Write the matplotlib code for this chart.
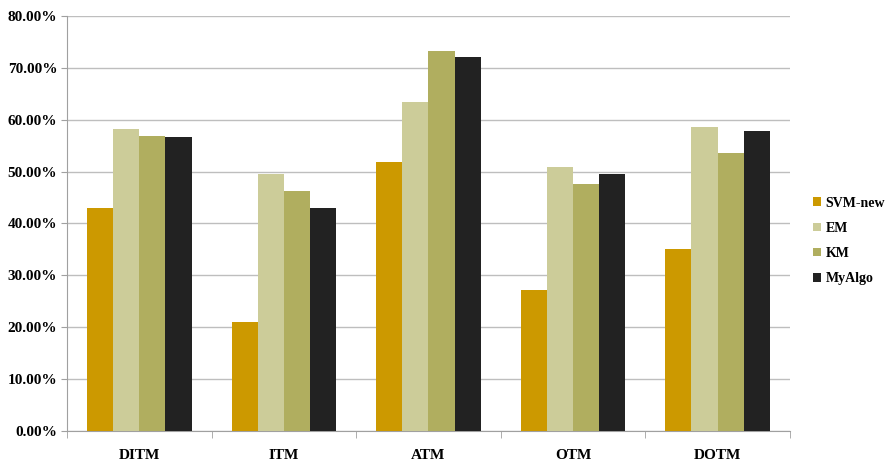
import matplotlib.pyplot as plt
import numpy as np
from matplotlib.ticker import PercentFormatter, FixedLocator

categories = ["DITM", "ITM", "ATM", "OTM", "DOTM"]
svm_new = [43.0, 21.0, 51.8, 27.1, 35.0]
em = [58.2, 49.5, 63.4, 50.9, 58.6]
km = [56.8, 46.3, 73.3, 47.7, 53.5]
my_algo = [56.7, 43.0, 72.1, 49.5, 57.8]

series = [("SVM-new", svm_new, "#CC9900"),
          ("EM", em, "#CCCC99"),
          ("KM", km, "#B0AE5F"),
          ("MyAlgo", my_algo, "#222222")]

plt.rcParams['font.family'] = ['Liberation Serif', 'DejaVu Serif']
plt.rcParams['font.weight'] = 'bold'

fig = plt.figure(figsize=(8.86, 4.62), dpi=100)
ax = fig.add_axes([0.0756, 0.0671, 0.816, 0.8983])

x = np.arange(len(categories))
width = 0.181
for i, (name, vals, color) in enumerate(series):
    ax.bar(x + (i - 1.5) * width, vals, width, color=color, label=name, zorder=3)

ax.set_xlim(-0.5, len(categories) - 0.5)
ax.set_ylim(0, 80)
ax.set_yticks(np.arange(0, 81, 10))
ax.yaxis.set_major_formatter(PercentFormatter(decimals=2))
ax.set_xticks(x)
ax.set_xticklabels(categories)
ax.xaxis.set_minor_locator(FixedLocator(np.arange(-0.5, len(categories), 1)))
ax.tick_params(axis='x', which='major', length=0, pad=13, labelsize=11)
ax.tick_params(axis='x', which='minor', length=5, color='#A0A0A0', direction='out')
ax.tick_params(axis='y', length=4, color='#A0A0A0', labelsize=11, pad=3)

ax.grid(axis='y', color='#BEBEBE', linewidth=1, zorder=0)
for s in ['top', 'right']:
    ax.spines[s].set_visible(False)
ax.spines['left'].set_color('#A0A0A0')
ax.spines['bottom'].set_color('#A0A0A0')

ax.legend(loc='center left', bbox_to_anchor=(1.032, 0.458), frameon=False,
          borderpad=0, borderaxespad=0,
          handlelength=0.55, handleheight=0.55, handletextpad=0.35,
          labelspacing=0.88, fontsize=10)

fig.savefig("out.png", dpi=100)
